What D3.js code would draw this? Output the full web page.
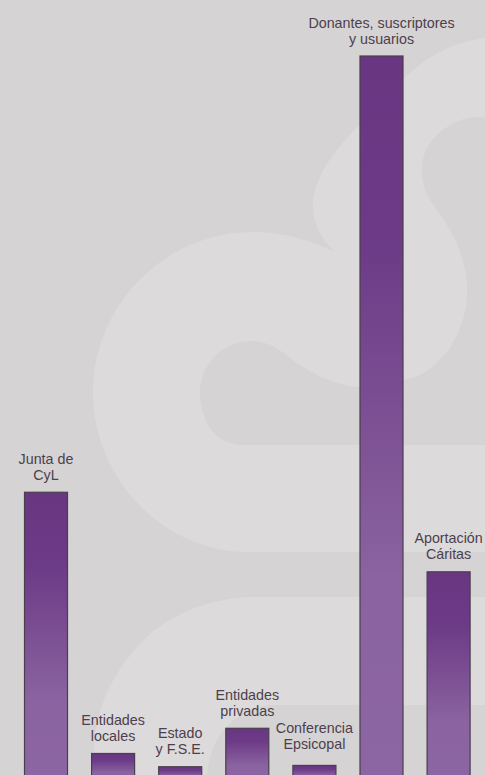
<!DOCTYPE html>
<html>
<head>
<meta charset="utf-8">
<script src="https://cdn.jsdelivr.net/npm/d3@7"></script>
<style>
  html, body { margin: 0; padding: 0; background: #d5d3d4; }
  svg { display: block; }
</style>
</head>
<body>
<svg id="chart" width="485" height="775"></svg>
<script>
// Data (percent of total income)
const categories = [
  "Junta de CyL",
  "Entidades locales",
  "Estado y F.S.E.",
  "Entidades privadas",
  "Conferencia Epsicopal",
  "Donantes, suscriptores y usuarios",
  "Aportación Cáritas"
];
const labelLines = [
  ["Junta de", "CyL"],
  ["Entidades", "locales"],
  ["Estado", "y F.S.E."],
  ["Entidades", "privadas"],
  ["Conferencia", "Epsicopal"],
  ["Donantes, suscriptores", "y usuarios"],
  ["Aportación", "Cáritas"]
];
const values = [21.7, 2.0, 1.0, 3.9, 1.1, 54.6, 15.7];

const W = 485, H = 775;
const svg = d3.select("#chart");

// background + watermark
svg.append("rect").attr("width", W).attr("height", H).attr("fill", "#d5d3d4");
const wm = svg.append("g");
const light = "#dcdadb", dark = "#d5d3d4";
// upper "s" + big "c"
wm.append("path").attr("fill", light).attr("d",
  "M485,38 C450,42 420,60 395,88 C360,125 318,160 313,200 C312,225 322,240 335,252 " +
  "C305,238 280,232 253,232 C165,232 93,305 93,392 C93,480 165,552 247,552 L485,552 Z");
// dark hole of upper shape
wm.append("path").attr("fill", dark).attr("d",
  "M485,118 C470,114 448,122 432,140 C420,155 418,180 430,200 C440,215 465,245 467,285 " +
  "C470,330 440,375 403,380 C390,386 375,390 357,387 C330,384 310,372 293,360 " +
  "C280,350 268,341 252,341 C222,341 200,365 200,393 C200,420 215,443 240,445 L485,445 Z");
// lower "c"
wm.append("path").attr("fill", light).attr("d",
  "M485,597 L247,597 C200,600 160,620 137,647 C115,672 100,700 95,735 L92,775 L485,775 Z");
wm.append("path").attr("fill", dark).attr("d",
  "M485,705 L272,705 C235,707 210,738 207,775 L485,775 Z");

// scales
const x = d3.scaleBand().domain(categories).range([24.5, 470.1]).paddingInner(0.359).paddingOuter(0);
const y = d3.scaleLinear().domain([0, d3.max(values)]).range([780, 56]);

// gradient
const defs = svg.append("defs");
const grad = defs.append("linearGradient").attr("id", "barGrad")
  .attr("x1", 0).attr("y1", 0).attr("x2", 0).attr("y2", 1);
grad.append("stop").attr("offset", "0%").attr("stop-color", "#693682");
grad.append("stop").attr("offset", "25%").attr("stop-color", "#6c3a86");
grad.append("stop").attr("offset", "72%").attr("stop-color", "#8a63a0");
grad.append("stop").attr("offset", "100%").attr("stop-color", "#8c66a2");

const data = categories.map((c, i) => ({ c, v: values[i], lines: labelLines[i] }));

svg.append("g").selectAll("rect").data(data).join("rect")
  .attr("x", d => x(d.c))
  .attr("y", d => y(d.v))
  .attr("width", x.bandwidth())
  .attr("height", d => y(0) - y(d.v))
  .attr("fill", "url(#barGrad)")
  .attr("stroke", "#4b3e4d")
  .attr("stroke-width", 1.2);

// labels: one text element per line
const lab = svg.append("g")
  .attr("font-family", "'Liberation Sans', Arial, sans-serif")
  .attr("font-size", 14.3)
  .attr("fill", "#4d3f4c")
  .attr("text-anchor", "middle");
data.forEach(d => {
  const cx = x(d.c) + x.bandwidth() / 2;
  const extra = d.c === "Conferencia Epsicopal" ? 4 : 0;
  const base = y(d.v) - 12.5 - extra;
  d.lines.forEach((line, j) => {
    lab.append("text")
      .attr("x", cx)
      .attr("y", base + (j - (d.lines.length - 1)) * 16)
      .text(line);
  });
});
</script>
</body>
</html>
